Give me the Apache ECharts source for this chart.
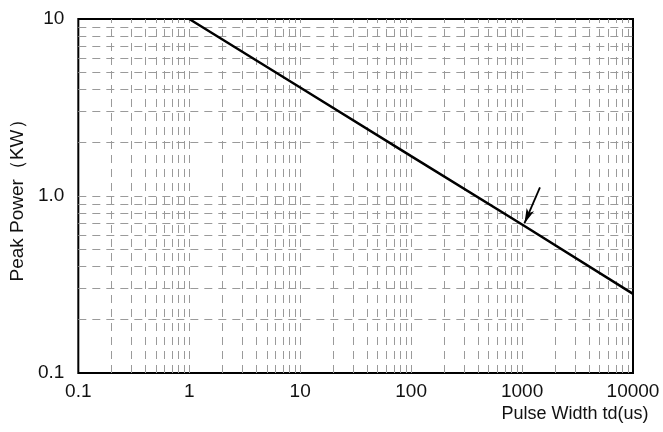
<!DOCTYPE html>
<html>
<head>
<meta charset="utf-8">
<script src="https://cdn.jsdelivr.net/npm/echarts@6/dist/echarts.min.js"></script>
<style>
html, body { margin: 0; padding: 0; background: #fff; }
#chart { width: 663px; height: 432px; }
</style>
</head>
<body>
<div id="chart"></div>
<script>
// 曲线数据 (脉宽 us, 峰值功率 KW)
var pulseWidth = [1, 10, 100, 1000, 10000];
var peakPower = [10, 4.1, 1.68, 0.69, 0.28];

// 箭头 起点/终点
var arrowFrom = [1450, 1.12];
var arrowTo = [1050, 0.70];

// 网格线位置
var xDecades = [0.1, 1, 10, 100, 1000];
var yDecades = [0.1, 1];
var steps = [1, 2, 3, 4, 5, 6, 7, 8, 9];

var myChart = echarts.init(document.getElementById('chart'));

var gridStyle = { color: '#9a9a9a', width: 1, type: [8, 6] };
var gridLines = [];
xDecades.forEach(function (d) {
    steps.forEach(function (s) {
        var v = +(d * s).toPrecision(3);
        if (v > 0.1) gridLines.push({ xAxis: v, lineStyle: gridStyle });
    });
});
yDecades.forEach(function (d) {
    steps.forEach(function (s) {
        var v = +(d * s).toPrecision(3);
        if (v > 0.1) gridLines.push({ yAxis: v, lineStyle: gridStyle });
    });
});

var lineData = pulseWidth.map(function (x, i) { return [x, peakPower[i]]; });

var font = 'Liberation Sans, Arial, sans-serif';

var option = {
    animation: false,
    grid: {
        left: 76, right: 30, top: 19, bottom: 59,
        show: true, borderColor: '#000', borderWidth: 2, backgroundColor: 'transparent'
    },
    xAxis: {
        type: 'log',
        logBase: 10,
        min: 0.1,
        max: 10000,
        name: 'Pulse Width td(us)',
        nameLocation: 'end',
        nameGap: 0,
        nameTextStyle: {
            fontFamily: font, fontSize: 18, color: '#111',
            align: 'center', verticalAlign: 'top', padding: [32, 116, 0, 0]
        },
        axisLine: { show: false },
        axisTick: { show: false },
        splitLine: { show: false },
        axisLabel: {
            fontFamily: font, fontSize: 19, color: '#111', margin: 9,
            formatter: function (v) { return String(+v.toPrecision(6)); }
        }
    },
    yAxis: {
        type: 'log',
        logBase: 10,
        min: 0.1,
        max: 10,
        name: 'Peak Power（KW）',
        nameLocation: 'middle',
        nameGap: 49,
        nameTextStyle: { fontFamily: font, fontSize: 19, color: '#111' },
        axisLine: { show: false },
        axisTick: { show: false },
        splitLine: { show: false },
        axisLabel: {
            fontFamily: font, fontSize: 19, color: '#111', margin: 14,
            formatter: function (v) {
                var r = +v.toPrecision(6);
                return r === 1 ? '1.0' : String(r);
            }
        }
    },
    series: [
        {
            name: 'grid',
            type: 'line',
            data: lineData,
            showSymbol: false,
            silent: true,
            z: 1,
            lineStyle: { opacity: 0 },
            markLine: {
                silent: true,
                symbol: 'none',
                label: { show: false },
                animation: false,
                data: gridLines
            }
        },
        {
            name: 'power',
            type: 'line',
            data: lineData,
            showSymbol: false,
            z: 5,
            lineStyle: { color: '#000', width: 2.5 },
            markLine: {
                silent: true,
                animation: false,
                label: { show: false },
                symbolSize: [6, 15],
                lineStyle: { color: '#000', width: 1.8, type: 'solid' },
                data: [
                    [
                        { coord: arrowFrom, symbol: 'none' },
                        { coord: arrowTo, symbol: 'arrow' }
                    ]
                ]
            }
        }
    ]
};

myChart.setOption(option);
</script>
</body>
</html>
